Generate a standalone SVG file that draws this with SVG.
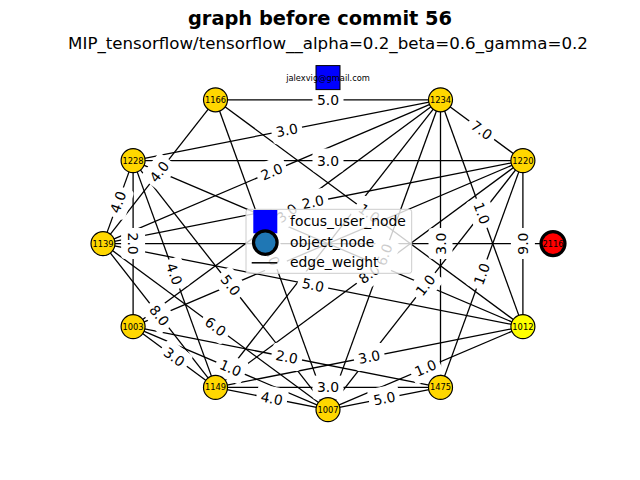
<svg xmlns="http://www.w3.org/2000/svg" width="640" height="480" viewBox="0 0 640 480">
<defs>
<style>
.e{stroke:#000;stroke-width:1.3;fill:none}
.lb text{font-family:"DejaVu Sans","Liberation Sans",sans-serif;font-size:13.9px;text-anchor:middle;fill:#000}
.n circle{fill:#ffd700;stroke:#000;stroke-width:1.2}
.n text,.nt{font-family:"DejaVu Sans","Liberation Sans",sans-serif;font-size:8.3px;text-anchor:middle;fill:#000}
.t{font-family:"DejaVu Sans","Liberation Sans",sans-serif;text-anchor:middle;fill:#000}
.lg{font-family:"DejaVu Sans","Liberation Sans",sans-serif;font-size:13.9px;fill:#000}
</style>
<rect id="lbox" x="-15.5" y="-12" width="31" height="24" rx="4" fill="#ffffff"/>
</defs>
<rect width="640" height="480" fill="#fff"/>
<text class="t" x="320" y="25" font-size="19.4" font-weight="bold">graph before commit 56</text>
<text class="t" x="328" y="49" font-size="16.67">MIP_tensorflow/tensorflow__alpha=0.2_beta=0.6_gamma=0.2</text>

<g id="edges">
<line class="e" x1="215.5" y1="99.8" x2="440.5" y2="99.8"/>
<line class="e" x1="440.5" y1="99.8" x2="133.1" y2="160.6"/>
<line class="e" x1="133.1" y1="160.6" x2="522.9" y2="160.6"/>
<line class="e" x1="103" y1="243.6" x2="440.5" y2="99.8"/>
<line class="e" x1="103" y1="243.6" x2="522.9" y2="160.6"/>
<line class="e" x1="440.5" y1="99.8" x2="522.9" y2="160.6"/>
<line class="e" x1="215.5" y1="99.8" x2="103" y2="243.6"/>
<line class="e" x1="133.1" y1="160.6" x2="103" y2="243.6"/>
<line class="e" x1="133.1" y1="160.6" x2="133.1" y2="326.6"/>
<line class="e" x1="133.1" y1="160.6" x2="215.5" y2="387.4"/>
<line class="e" x1="133.1" y1="160.6" x2="328" y2="409.6"/>
<line class="e" x1="103" y1="243.6" x2="215.5" y2="387.4"/>
<line class="e" x1="103" y1="243.6" x2="328" y2="409.6"/>
<line class="e" x1="133.1" y1="326.6" x2="215.5" y2="387.4"/>
<line class="e" x1="133.1" y1="326.6" x2="328" y2="409.6"/>
<line class="e" x1="133.1" y1="326.6" x2="440.5" y2="387.4"/>
<line class="e" x1="215.5" y1="387.4" x2="328" y2="409.6"/>
<line class="e" x1="215.5" y1="387.4" x2="440.5" y2="387.4"/>
<line class="e" x1="328" y1="409.6" x2="440.5" y2="387.4"/>
<line class="e" x1="215.5" y1="387.4" x2="522.9" y2="326.6"/>
<line class="e" x1="328" y1="409.6" x2="522.9" y2="326.6"/>
<line class="e" x1="440.5" y1="387.4" x2="522.9" y2="160.6"/>
<line class="e" x1="440.5" y1="99.8" x2="522.9" y2="326.6"/>
<line class="e" x1="522.9" y1="160.6" x2="522.9" y2="326.6"/>
<line class="e" x1="440.5" y1="99.8" x2="440.5" y2="387.4"/>
<line class="e" x1="522.9" y1="160.6" x2="328" y2="409.6"/>
<line class="e" x1="103" y1="243.6" x2="522.9" y2="326.6"/>
<line class="e" x1="522.9" y1="160.6" x2="215.5" y2="387.4"/>
<line class="e" x1="103" y1="243.6" x2="553" y2="243.6"/>
<line class="e" x1="440.5" y1="99.8" x2="215.5" y2="387.4"/>
<line class="e" x1="440.5" y1="99.8" x2="133.1" y2="326.6"/>
<line class="e" x1="440.5" y1="99.8" x2="328" y2="409.6"/>
<line class="e" x1="522.9" y1="160.6" x2="133.1" y2="326.6"/>
<line class="e" x1="133.1" y1="160.6" x2="522.9" y2="326.6"/>
<line class="e" x1="215.5" y1="99.8" x2="328" y2="409.6"/>
<line class="e" x1="215.5" y1="99.8" x2="522.9" y2="326.6"/>

<g class="lb" transform="translate(328,99.8)"><use href="#lbox"/><text y="5">5.0</text></g>
<g class="lb" transform="translate(286.8,130.2) rotate(-11.19)"><use href="#lbox"/><text y="5">3.0</text></g>
<g class="lb" transform="translate(328,160.6)"><use href="#lbox"/><text y="5">3.0</text></g>
<g class="lb" transform="translate(271.75,171.7) rotate(-23.07)"><use href="#lbox"/><text y="5">2.0</text></g>
<g class="lb" transform="translate(312.95,202.1) rotate(-11.18)"><use href="#lbox"/><text y="5">2.0</text></g>
<g class="lb" transform="translate(481.7,130.2) rotate(36.42)"><use href="#lbox"/><text y="5">7.0</text></g>
<g class="lb" transform="translate(159.25,171.7) rotate(-51.96)"><use href="#lbox"/><text y="5">4.0</text></g>
<g class="lb" transform="translate(118.05,202.1) rotate(-70.07)"><use href="#lbox"/><text y="5">4.0</text></g>
<g class="lb" transform="translate(133.1,243.6) rotate(90)"><use href="#lbox"/><text y="5">2.0</text></g>
<g class="lb" transform="translate(174.3,274) rotate(70.03)"><use href="#lbox"/><text y="5">4.0</text></g>
<g class="lb" transform="translate(230.55,285.1) rotate(51.95)"><use href="#lbox"/><text y="5">5.0</text></g>
<g class="lb" transform="translate(159.25,315.5) rotate(51.96)"><use href="#lbox"/><text y="5">8.0</text></g>
<g class="lb" transform="translate(215.5,326.6) rotate(36.42)"><use href="#lbox"/><text y="5">6.0</text></g>
<g class="lb" transform="translate(174.3,357) rotate(36.42)"><use href="#lbox"/><text y="5">3.0</text></g>
<g class="lb" transform="translate(230.55,368.1) rotate(23.07)"><use href="#lbox"/><text y="5">1.0</text></g>
<g class="lb" transform="translate(286.8,357) rotate(11.19)"><use href="#lbox"/><text y="5">2.0</text></g>
<g class="lb" transform="translate(271.75,398.5) rotate(11.16)"><use href="#lbox"/><text y="5">4.0</text></g>
<g class="lb" transform="translate(328,387.4)"><use href="#lbox"/><text y="5">3.0</text></g>
<g class="lb" transform="translate(384.25,398.5) rotate(-11.16)"><use href="#lbox"/><text y="5">5.0</text></g>
<g class="lb" transform="translate(369.2,357) rotate(-11.19)"><use href="#lbox"/><text y="5">3.0</text></g>
<g class="lb" transform="translate(425.45,368.1) rotate(-23.07)"><use href="#lbox"/><text y="5">1.0</text></g>
<g class="lb" transform="translate(481.7,274) rotate(-70.03)"><use href="#lbox"/><text y="5">1.0</text></g>
<g class="lb" transform="translate(481.7,213.2) rotate(70.03)"><use href="#lbox"/><text y="5">1.0</text></g>
<g class="lb" transform="translate(522.9,243.6) rotate(-90)"><use href="#lbox"/><text y="5">9.0</text></g>
<g class="lb" transform="translate(440.5,243.6) rotate(-90)"><use href="#lbox"/><text y="5">3.0</text></g>
<g class="lb" transform="translate(425.45,285.1) rotate(-51.95)"><use href="#lbox"/><text y="5">1.0</text></g>
<g class="lb" transform="translate(312.95,285.1) rotate(11.18)"><use href="#lbox"/><text y="5">5.0</text></g>
<g class="lb" transform="translate(369.2,274) rotate(-36.42)"><use href="#lbox"/><text y="5">8.0</text></g>
<g class="lb" transform="translate(286.8,213.2) rotate(-36.42)"><use href="#lbox"/><text y="5">3.0</text></g>
<g class="lb" transform="translate(384.25,254.7) rotate(-70.05)"><use href="#lbox"/><text y="5">6.0</text></g>
<g class="lb" transform="translate(271.75,254.7) rotate(70.05)"><use href="#lbox"/><text y="5">4.0</text></g>
<g class="lb" transform="translate(369.2,213.2) rotate(36.42)"><use href="#lbox"/><text y="5">1.0</text></g>
</g>

<g id="node-jalexvig">
<rect x="316" y="65.6" width="24" height="24" fill="#0000ff" stroke="#000" stroke-width="1"/>
<text class="nt" x="328" y="80.5">jalexvig@gmail.com</text>
</g>
<g id="node-1166" class="n"><circle cx="215.5" cy="99.8" r="12"/><text x="215.5" y="102.8">1166</text></g>
<g id="node-1234" class="n"><circle cx="440.5" cy="99.8" r="12"/><text x="440.5" y="102.8">1234</text></g>
<g id="node-1220" class="n"><circle cx="522.9" cy="160.6" r="12"/><text x="522.9" y="163.6">1220</text></g>
<g id="node-2116" class="n"><circle cx="553" cy="243.6" r="12" style="fill:#ff0000;stroke-width:3.2"/><text x="553" y="246.6">2116</text></g>
<g id="node-1012" class="n"><circle cx="522.9" cy="326.6" r="12" style="fill:#ffff00"/><text x="522.9" y="329.6">1012</text></g>
<g id="node-1475" class="n"><circle cx="440.5" cy="387.4" r="12"/><text x="440.5" y="390.4">1475</text></g>
<g id="node-1007" class="n"><circle cx="328" cy="409.6" r="12"/><text x="328" y="412.6">1007</text></g>
<g id="node-1149" class="n"><circle cx="215.5" cy="387.4" r="12"/><text x="215.5" y="390.4">1149</text></g>
<g id="node-1003" class="n"><circle cx="133.1" cy="326.6" r="12"/><text x="133.1" y="329.6">1003</text></g>
<g id="node-1139" class="n"><circle cx="103" cy="243.6" r="12"/><text x="103" y="246.6">1139</text></g>
<g id="node-1228" class="n"><circle cx="133.1" cy="160.6" r="12"/><text x="133.1" y="163.6">1228</text></g>

<g id="legend">
<rect x="246" y="209.3" width="165.7" height="64" rx="2.5" fill="#fff" fill-opacity="0.8" stroke="#cccccc" stroke-width="1"/>
<rect x="253.3" y="210" width="24" height="23.3" fill="#0000ff"/>
<circle cx="265.3" cy="242.6" r="11.8" fill="#1f77b4" stroke="#000" stroke-width="3.2"/>
<line x1="251.7" y1="262.8" x2="277.3" y2="262.8" stroke="#000" stroke-width="1.5"/>
<text class="lg" x="290" y="226">focus_user_node</text>
<text class="lg" x="290" y="246.6">object_node</text>
<text class="lg" x="290" y="267.4">edge_weight</text>
</g>
</svg>
